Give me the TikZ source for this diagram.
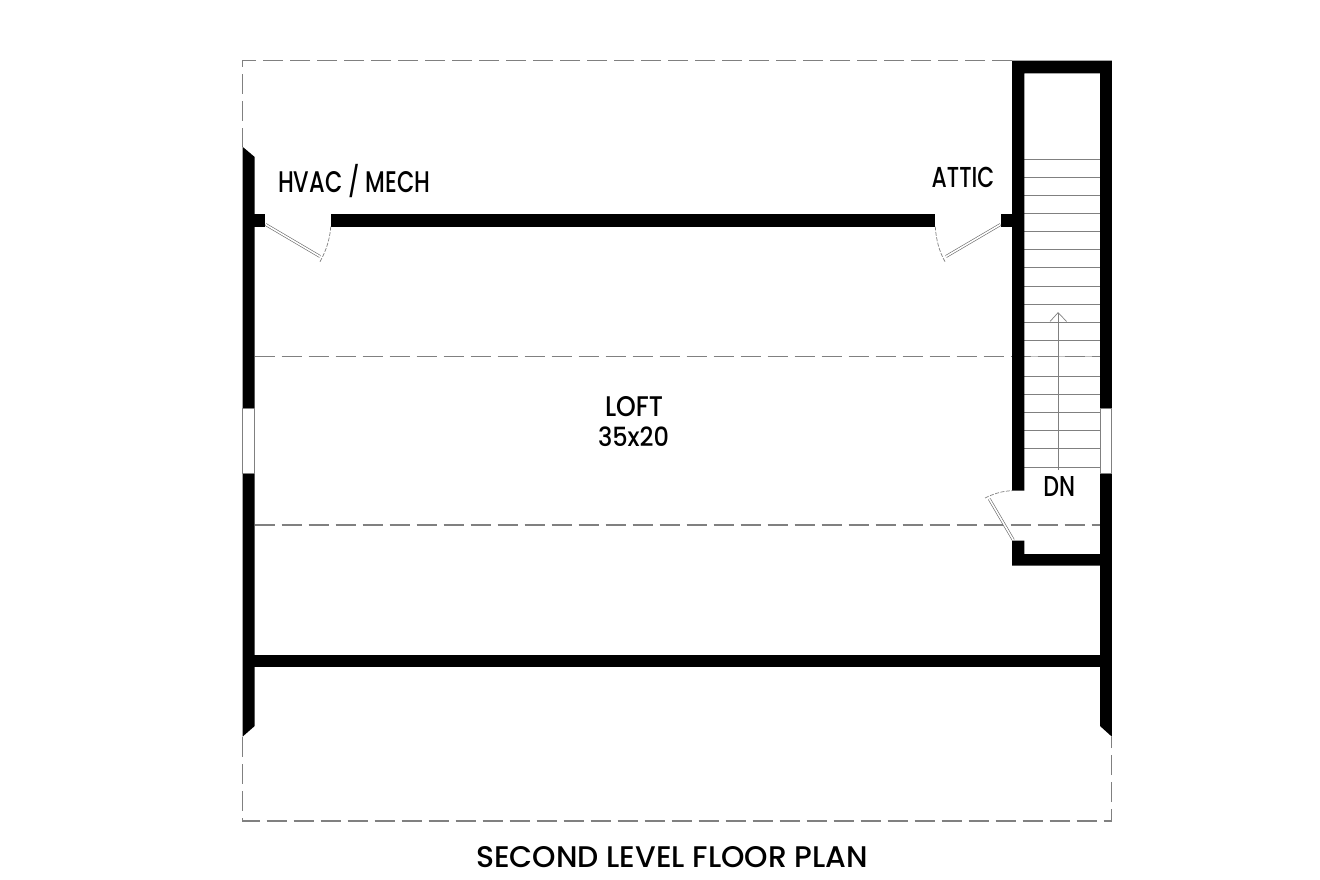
\documentclass[tikz,border=0pt]{standalone}
\usepackage{fontspec}
\usepackage{graphicx}
\setmainfont{Poppins Medium}
\newcommand{\fitlabel}[3]{\resizebox{#1pt}{#2pt}{#3}}
\tikzset{
  wall/.style={fill=black},
  hidden/.style={draw=black!50,line width=1.3pt,dash pattern=on 20pt off 7pt},
  tread/.style={draw=black!50,line width=.9pt},
  windowbox/.style={draw=black!50,fill=white,line width=.9pt},
  doorleaf/.style={draw=black!60,double=white,double distance=1.6pt,line width=.6pt},
  doorswing/.style={draw=black!50,line width=.7pt,dash pattern=on 4pt off 1.5pt},
  label/.style={inner sep=0pt,outer sep=0pt,text=black,anchor=center}
}
\begin{document}
\begin{tikzpicture}[x=1pt,y=-1pt]
\useasboundingbox (0,0) rectangle (1320,880);
\fill[white] (0,0) rectangle (1320,880);

% outline of the roof below (dashed)
\draw[hidden] (1012,60.7) -- (242.7,60.7) -- (242.7,147);
\draw[hidden] (242.7,737) -- (242.7,821) -- (1111.7,821) -- (1111.7,737);
% stair treads
\foreach \k in {0,...,10,12,13,...,17}
  \draw[tread] (1024.3,159.3+18.1*\k) -- (1100,159.3+18.1*\k);
\draw[tread,draw=black!25] (1024.3,356.7) -- (1100,356.7);
% slope lines
\draw[hidden] (254.7,356.7) -- (1100,356.7);
\draw[hidden] (254.7,525) -- (1100,525);
% stair arrow
\draw[tread] (1058,470) -- (1058,312.7);
\draw[tread,line width=.7pt] (1050,321.5) -- (1058,312.7) -- (1066.7,321.5);

% walls
\path[wall] (242.5,146.7) -- (254.7,157) -- (254.7,408.3) -- (242.5,408.3) -- cycle;
\path[wall] (242.5,473.3) -- (254.7,473.3) -- (254.7,726) -- (242.5,736.7) -- cycle;
\path[wall] (250,214.3) rectangle (265.3,226.7);
\path[wall] (330.7,214.3) rectangle (935.3,226.7);
\path[wall] (1000.7,214.3) rectangle (1015,226.7);
\path[wall] (250,655) rectangle (1104,666.7);
\path[wall] (1012,60.7) -- (1111.9,60.7) -- (1111.9,408.3) -- (1100,408.3) -- (1100,73.3)
  -- (1024.3,73.3) -- (1024.3,490.7) -- (1012,490.7) -- cycle;
\path[wall] (1100,473.3) -- (1111.9,473.3) -- (1111.9,736.7) -- (1100,726) -- (1100,565.7)
  -- (1012,565.7) -- (1012,540.7) -- (1024.3,540.7) -- (1024.3,554) -- (1100,554) -- cycle;

% windows
\path[windowbox] (242.7,408.3) rectangle (254.7,473.3);
\path[windowbox] (1100,408.3) rectangle (1111.7,473.3);

% doors
\draw[doorleaf] (265.6,224.5) -- (320,256.5);
\draw[doorswing] (320,261.7) .. controls (326,251) and (330,239) .. (330.7,226.7);
\draw[doorleaf] (1000.5,224.5) -- (946,256.5);
\draw[doorswing] (945,261.7) .. controls (939,251) and (936,239) .. (935.3,226.7);
\draw[doorleaf] (1013.3,540) -- (989.3,499);
\draw[doorswing] (985,498) .. controls (993,494) and (1002,491) .. (1012,490.7);

% labels
\node[label] (hvac) at (354.2,182) {\fitlabel{152}{21}{HVAC \smash{/} MECH}};
\node[label] (attic) at (963,177.2) {\fitlabel{62.6}{20.3}{ATTIC}};
\node[label] (dn) at (1059.2,486.7) {\fitlabel{31.7}{20}{DN}};
\node[label] (loft) at (634,406.7) {\fitlabel{58}{20}{LOFT}};
\node[label] (size) at (633.5,436.8) {\fitlabel{71}{19.7}{35x20}};
\node[label] (title) at (672,857.5) {\fitlabel{392}{21}{SECOND LEVEL FLOOR PLAN}};
\end{tikzpicture}
\end{document}
